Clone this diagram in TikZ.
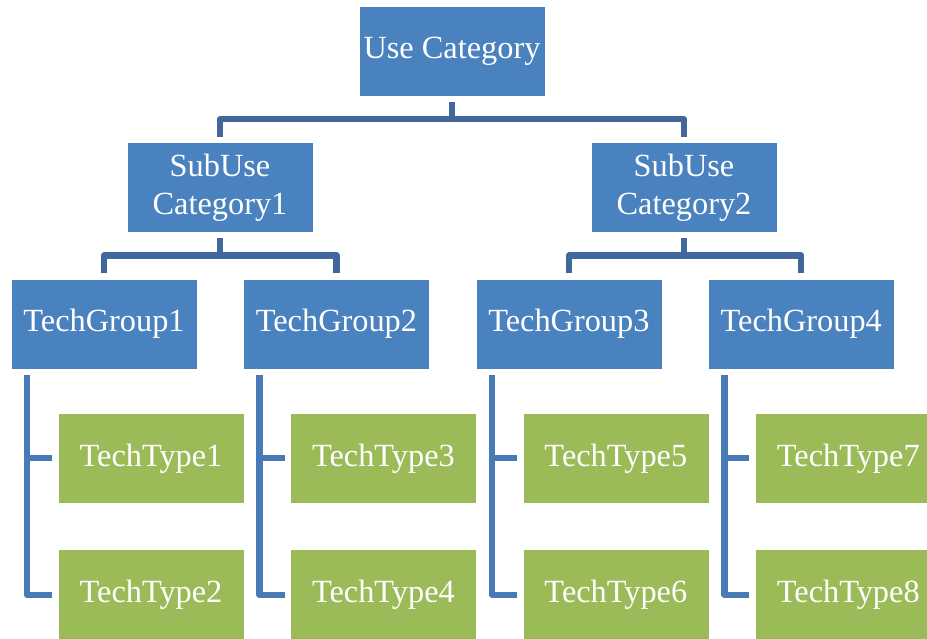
\documentclass[tikz,border=0pt]{standalone}
\usepackage{fontspec}
\setmainfont{Liberation Serif}
\usepackage{tikz}
\usetikzlibrary{positioning,calc}
\definecolor{boxblue}{RGB}{74,129,191}
\definecolor{boxgreen}{RGB}{155,187,89}
\definecolor{linkdark}{RGB}{64,104,154}
\definecolor{linklight}{RGB}{72,122,182}
\tikzset{block/.style={draw=white,
                       line width=0.3pt,
                       rectangle,
                       text=white,
                       align=center,
                       font=\fontsize{23}{27}\selectfont,
                       minimum height=2.25cm,
                       minimum width=4.65cm},
         catblock/.style={block, fill=boxblue},
         typeblock/.style={block, fill=boxgreen},
         link/.style={line width=4.5pt, line join=round, draw=linkdark},
         sublink/.style={link, draw=linklight}}

\begin{document}
\begin{tikzpicture}
    \useasboundingbox (0,0) rectangle (23.175,-15.95);
    \clip (0,0) rectangle (23.175,-15.95);
    % We start by placing the category blocks
    \node [catblock] (Use) at (11.3,-1.275) {Use Category};
    \node [catblock, below=1.15cm of Use, xshift=-5.8cm] (Sub1) {SubUse\\Category1};
    \node [catblock, below=1.15cm of Use, xshift=5.8cm] (Sub2) {SubUse\\Category2};
    % then the groups in one row
    \node [catblock, below=1.15cm of Sub1, xshift=-2.9cm] (Group1) {TechGroup1};
    \node [catblock, right=1.15cm of Group1] (Group2) {TechGroup2};
    \node [catblock, right=1.15cm of Group2] (Group3) {TechGroup3};
    \node [catblock, right=1.15cm of Group3] (Group4) {TechGroup4};
    % and the types below each group
    \node [typeblock, below=1.1cm of Group1, xshift=1.175cm] (Type1) {TechType1};
    \node [typeblock, below=1.15cm of Type1] (Type2) {TechType2};
    \node [typeblock, below=1.1cm of Group2, xshift=1.175cm] (Type3) {TechType3};
    \node [typeblock, below=1.15cm of Type3] (Type4) {TechType4};
    \node [typeblock, below=1.1cm of Group3, xshift=1.175cm] (Type5) {TechType5};
    \node [typeblock, below=1.15cm of Type5] (Type6) {TechType6};
    \node [typeblock, below=1.1cm of Group4, xshift=1.175cm] (Type7) {TechType7};
    \node [typeblock, below=1.15cm of Type7] (Type8) {TechType8};
    % Elbow connectors from each category to its children
    \coordinate (UseBar) at ($(Use.south)!0.5!(Use.south |- Sub1.north)$);
    \draw [link] ([yshift=-0.14cm]Use.south) -- (UseBar);
    \draw [link] ([yshift=0.14cm]Sub1.north) |- (UseBar) -| ([yshift=0.14cm]Sub2.north);
    \coordinate (Sub1Bar) at ($(Sub1.south)!0.5!(Sub1.south |- Group1.north)$);
    \draw [link] ([yshift=-0.14cm]Sub1.south) -- (Sub1Bar);
    \draw [link] ([yshift=0.14cm]Group1.north) |- (Sub1Bar) -| ([yshift=0.14cm]Group2.north);
    \coordinate (Sub2Bar) at ($(Sub2.south)!0.5!(Sub2.south |- Group3.north)$);
    \draw [link] ([yshift=-0.14cm]Sub2.south) -- (Sub2Bar);
    \draw [link] ([yshift=0.14cm]Group3.north) |- (Sub2Bar) -| ([yshift=0.14cm]Group4.north);
    % Each group holds two types
    \foreach \g/\ta/\tb in {1/1/2, 2/3/4, 3/5/6, 4/7/8} {
        \coordinate (Drop\g) at ([xshift=0.41cm,yshift=-0.14cm]Group\g.south west);
        \draw [sublink] (Drop\g) |- ([xshift=-0.14cm]Type\tb.west);
        \draw [sublink] (Drop\g |- Type\ta.west) -- ([xshift=-0.14cm]Type\ta.west);
    }
\end{tikzpicture}
\end{document}
